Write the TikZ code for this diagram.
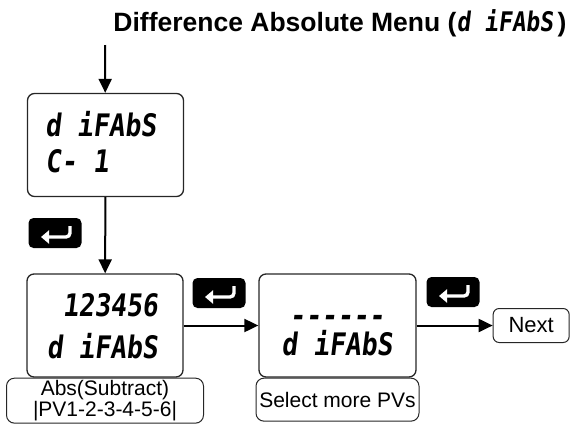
\documentclass[tikz,border=0pt]{standalone}
\usepackage{fontspec}
\setmainfont{Liberation Sans}
\newfontfamily\lcdfont[FakeSlant=0.12,FakeStretch=0.85]{DejaVu Sans Mono Bold}
\usetikzlibrary{arrows.meta,positioning}

\tikzset{
  lcdbox/.style={draw=black!85,line width=1.3pt,rounded corners=7pt,minimum width=156pt,minimum height=103pt,inner sep=0pt},
  sublabel/.style={draw=black!85,line width=1pt,rounded corners=8pt,align=center,inner sep=0pt,font=\fontsize{21}{18}\selectfont},
  lcdtext/.style={font=\lcdfont\fontsize{31}{31}\selectfont,inner sep=0pt},
  enterkey/.style={fill=black,rounded corners=5pt,minimum width=53pt,minimum height=30pt,inner sep=0pt,
    path picture={\draw[white,line width=3.4pt,rounded corners=4pt,-{Triangle[length=8pt,width=13pt]}]
      ([shift={(15pt,7pt)}]path picture bounding box.center) -- ([shift={(15pt,-4pt)}]path picture bounding box.center)
      -- ([shift={(-14pt,-4pt)}]path picture bounding box.center);}},
  flow/.style={line width=2pt,-{Triangle[length=14pt,width=13pt]}}
}

\begin{document}
\begin{tikzpicture}[x=1pt,y=-1pt]
  \useasboundingbox (0,0) rectangle (570,424);
  \node[font=\bfseries\fontsize{26.5}{28}\selectfont] (title) at (340,23)
    {Difference Absolute Menu ({\lcdfont\fontsize{27}{27}\selectfont d iFAbS}\,)};
  \coordinate (entry) at (105,45);

  % displays
  \node[lcdbox] (dfa) at (105.5,145) {};
  \node[lcdtext,anchor=west] (dfa1) at (45,124) {d iFAbS};
  \node[lcdtext,anchor=west] (dfa2) at (45,161) {C- 1};

  \node[lcdbox] (val) at (105,325.5) {};
  \node[lcdtext,anchor=east] (val1) at (158,305) {123456};
  \node[lcdtext,anchor=east] (val2) at (158,346) {d iFAbS};
  \node[sublabel,minimum width=197pt,minimum height=45pt,below=0pt of val] (vallbl)
    {Abs(Subtract)\\|PV1-2-3-4-5-6|};

  \node[lcdbox,minimum width=157pt] (more) at (337.5,325.5) {};
  \node[lcdtext] (more1) at (337,321) {------};
  \node[lcdtext] (more2) at (337,343) {d iFAbS};
  \node[sublabel,minimum width=163pt,minimum height=43pt,below=0pt of more] (morelbl)
    {Select more PVs};

  \node[sublabel,rounded corners=6pt,minimum width=76pt,minimum height=34pt,font=\fontsize{22}{22}\selectfont,
    right=76pt of more] (next) {Next};

  % enter keys
  \node[enterkey] (key1) at (55,233) {};
  \node[enterkey] (key2) at (219,293) {};
  \node[enterkey] (key3) at (453,292) {};

  \draw[flow] (entry) -- (dfa);
  \draw[flow] (dfa) -- (val);
  \draw[flow] (val) -- (more);
  \draw[flow] (more) -- (next);
\end{tikzpicture}
\end{document}
